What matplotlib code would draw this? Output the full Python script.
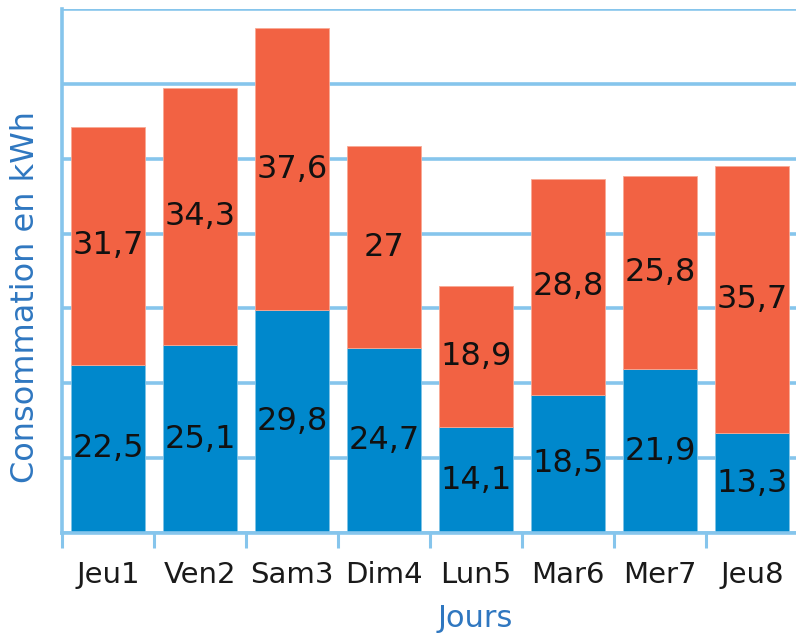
import numpy as np
import matplotlib
matplotlib.use('Agg')
import matplotlib.pyplot as plt

# Data
jours = ['Jeu1', 'Ven2', 'Sam3', 'Dim4', 'Lun5', 'Mar6', 'Mer7', 'Jeu8']
bas = [22.5, 25.1, 29.8, 24.7, 14.1, 18.5, 21.9, 13.3]
haut = [31.7, 34.3, 37.6, 27, 18.9, 28.8, 25.8, 35.7]

blue = '#0088cc'
orange = '#f26243'
grid_col = '#86c5ec'
label_col = '#2f77c0'


def fmt(v):
    s = ('%g' % v).replace('.', ',')
    return s


fig = plt.figure(figsize=(7.96, 6.38), dpi=100)
ax = fig.add_axes([62 / 796, 1 - 533 / 638, 736 / 796, 524 / 638])

x = np.arange(len(jours))
b1 = ax.bar(x, bas, width=0.8, color=blue, edgecolor='#7fc3e6', linewidth=0.6, zorder=2)
b2 = ax.bar(x, haut, width=0.8, bottom=bas, color=orange, edgecolor='#f8a995', linewidth=0.6, zorder=2)

for i in range(len(jours)):
    ax.text(x[i], bas[i] / 2, fmt(bas[i]), ha='center', va='center', fontsize=23, color='#111111', zorder=3)
    ax.text(x[i], bas[i] + haut[i] / 2, fmt(haut[i]), ha='center', va='center', fontsize=23, color='#111111', zorder=3)

ax.set_xlim(-0.5, len(jours) - 0.5)
ax.set_ylim(0, 70)
ax.set_yticks(np.arange(0, 71, 10))
ax.yaxis.grid(True, color=grid_col, linewidth=2.6, zorder=0)
ax.set_axisbelow(True)
ax.tick_params(axis='y', length=0, labelleft=False)

ax.set_xticks(x)
ax.set_xticklabels(jours, fontsize=21, color='#1a1a1a')
ax.set_xticks(np.arange(-0.5, len(jours), 1), minor=True)
ax.tick_params(axis='x', which='major', length=0, pad=20)
ax.tick_params(axis='x', which='minor', length=11, width=2.2, color=grid_col)

for side in ['top', 'right']:
    ax.spines[side].set_visible(False)
ax.spines['left'].set_color(grid_col)
ax.spines['left'].set_linewidth(2.6)
ax.spines['bottom'].set_color(grid_col)
ax.spines['bottom'].set_linewidth(2.6)

ax.set_ylabel('Consommation en kWh', fontsize=23, color=label_col)
ax.yaxis.set_label_coords(-0.028, 0.45)
ax.set_xlabel('Jours', fontsize=22, color=label_col)
ax.xaxis.set_label_coords((475 - 62) / 736, -0.136)

fig.savefig('out.png', dpi=100)
